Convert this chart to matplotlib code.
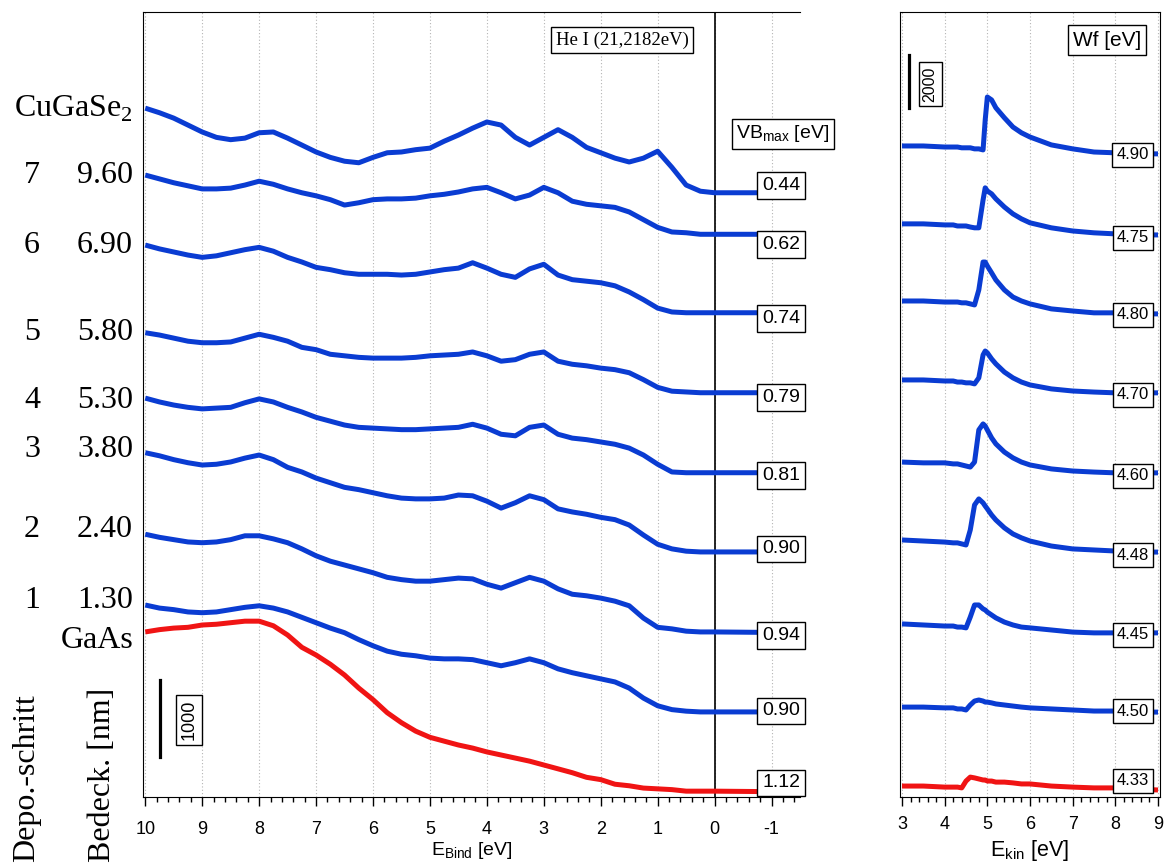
import matplotlib
matplotlib.use("Agg")
import matplotlib.pyplot as plt
from matplotlib.ticker import MultipleLocator

plt.rcParams['font.family'] = ['Liberation Sans', 'DejaVu Sans']
plt.rcParams['axes.unicode_minus'] = False

# ---- valence band spectra (He I), counts vs binding energy ----
e_bind = [10, 9.75, 9.5, 9.25, 9, 8.75, 8.5, 8.25, 8, 7.75, 7.5, 7.25, 7, 6.75,
          6.5, 6.25, 6, 5.75, 5.5, 5.25, 5, 4.75, 4.5, 4.25, 4, 3.75, 3.5, 3.25,
          3, 2.75, 2.5, 2.25, 2, 1.75, 1.5, 1.25, 1, 0.75, 0.5, 0.25, 0, -1.5]

vb_cugase2 = [8930, 8870, 8800, 8710, 8620, 8550, 8520, 8540, 8610, 8620, 8540, 8450, 8360, 8290,
              8240, 8220, 8290, 8350, 8360, 8390, 8410, 8500, 8580, 8670, 8750, 8710, 8550, 8450,
              8550, 8650, 8550, 8420, 8350, 8280, 8230, 8280, 8370, 8160, 7930, 7850, 7830, 7830]
vb_step7 = [8060, 8010, 7960, 7920, 7880, 7880, 7890, 7930, 7980, 7940, 7880, 7830, 7790, 7740,
            7670, 7700, 7740, 7750, 7750, 7760, 7790, 7810, 7840, 7880, 7900, 7830, 7750, 7800,
            7900, 7830, 7720, 7680, 7660, 7640, 7580, 7480, 7380, 7320, 7310, 7290, 7290, 7290]
vb_step6 = [7150, 7100, 7060, 7020, 6990, 7010, 7050, 7090, 7120, 7070, 6990, 6930, 6860, 6830,
            6790, 6770, 6770, 6770, 6760, 6770, 6800, 6830, 6850, 6920, 6850, 6770, 6730, 6840,
            6900, 6760, 6700, 6680, 6660, 6620, 6540, 6440, 6330, 6280, 6270, 6270, 6270, 6270]
vb_step5 = [6010, 5980, 5940, 5900, 5880, 5880, 5890, 5940, 5990, 5950, 5900, 5820, 5790, 5730,
            5710, 5690, 5680, 5680, 5680, 5690, 5710, 5720, 5730, 5760, 5710, 5640, 5660, 5730,
            5760, 5640, 5600, 5580, 5550, 5530, 5490, 5400, 5300, 5250, 5240, 5230, 5230, 5230]
vb_step4 = [5160, 5110, 5070, 5040, 5020, 5030, 5040, 5100, 5150, 5110, 5040, 4980, 4910, 4860,
            4810, 4780, 4770, 4760, 4750, 4750, 4760, 4770, 4780, 4820, 4770, 4690, 4670, 4780,
            4810, 4690, 4640, 4620, 4590, 4560, 4510, 4420, 4300, 4200, 4190, 4190, 4190, 4190]
vb_step3 = [4450, 4410, 4360, 4320, 4290, 4300, 4330, 4380, 4420, 4360, 4260, 4200, 4120, 4060,
            4000, 3970, 3930, 3890, 3860, 3850, 3850, 3860, 3900, 3890, 3820, 3730, 3800, 3890,
            3840, 3720, 3680, 3650, 3610, 3580, 3510, 3380, 3260, 3200, 3170, 3160, 3160, 3160]
vb_step2 = [3390, 3350, 3320, 3290, 3280, 3290, 3320, 3370, 3370, 3330, 3280, 3200, 3110, 3040,
            2990, 2940, 2890, 2830, 2800, 2780, 2780, 2800, 2820, 2810, 2740, 2690, 2760, 2830,
            2780, 2680, 2610, 2590, 2560, 2520, 2460, 2300, 2180, 2160, 2130, 2120, 2120, 2110]
vb_step1 = [2470, 2430, 2410, 2380, 2370, 2380, 2410, 2440, 2460, 2430, 2380, 2310, 2240, 2170,
            2110, 2020, 1940, 1870, 1830, 1810, 1780, 1770, 1770, 1760, 1720, 1680, 1720, 1770,
            1720, 1640, 1590, 1550, 1510, 1470, 1390, 1260, 1160, 1110, 1090, 1080, 1080, 1080]
vb_gaas = [2120, 2150, 2170, 2180, 2210, 2220, 2240, 2260, 2260, 2200, 2080, 1920, 1820, 1700,
           1560, 1390, 1240, 1070, 940, 830, 750, 700, 650, 610, 560, 520, 480, 440,
           390, 340, 290, 230, 200, 140, 120, 90, 80, 70, 50, 50, 50, 40]

vb_max = ['0.44', '0.62', '0.74', '0.79', '0.81', '0.90', '0.94', '0.90', '1.12']

# ---- secondary electron cutoff, counts vs kinetic energy ----
e_kin = [3.0, 3.5, 4.0, 4.2, 4.3, 4.4, 4.5, 4.6, 4.7, 4.8, 4.9, 4.95, 5.0, 5.1, 5.2,
         5.4, 5.6, 5.8, 6.0, 6.5, 7.0, 7.5, 8.0, 8.5, 9.0]

wf_cugase2 = [24660, 24660, 24620, 24620, 24620, 24590, 24590, 24590, 24550, 24550, 24510, 25650, 26520,
              26410, 26110, 25730, 25380, 25160, 25000, 24700, 24550, 24430, 24400, 24360, 24360]
wf_step7 = [21700, 21700, 21660, 21660, 21620, 21620, 21620, 21580, 21550, 21550, 22610, 23070, 22950,
            22840, 22650, 22340, 22080, 21890, 21740, 21550, 21430, 21360, 21320, 21280, 21280]
wf_step6 = [18770, 18770, 18730, 18730, 18730, 18700, 18700, 18660, 18620, 19190, 20250, 20250, 20100,
            19840, 19570, 19190, 18920, 18770, 18660, 18470, 18390, 18320, 18320, 18280, 18280]
wf_step5 = [15770, 15770, 15730, 15730, 15690, 15690, 15660, 15660, 15620, 15850, 16720, 16870, 16800,
            16570, 16380, 16070, 15850, 15690, 15580, 15430, 15350, 15310, 15280, 15280, 15280]
wf_step4 = [12650, 12620, 12620, 12580, 12580, 12540, 12500, 12460, 12650, 13870, 14100, 14020, 13870,
            13570, 13340, 13030, 12810, 12650, 12540, 12390, 12310, 12270, 12240, 12240, 12240]
wf_step3 = [9690, 9650, 9610, 9580, 9580, 9540, 9500, 10070, 11020, 11250, 11100, 10980, 10870,
            10640, 10450, 10150, 9920, 9770, 9650, 9460, 9350, 9310, 9270, 9230, 9230]
wf_step2 = [6500, 6460, 6420, 6420, 6380, 6380, 6350, 6760, 7220, 7220, 7070, 7030, 6950,
            6840, 6730, 6570, 6460, 6380, 6350, 6270, 6190, 6160, 6160, 6160, 6160]
wf_step1 = [3340, 3340, 3310, 3310, 3270, 3270, 3230, 3420, 3570, 3610, 3570, 3530, 3530,
            3500, 3460, 3420, 3380, 3340, 3310, 3270, 3230, 3190, 3190, 3150, 3150]
wf_gaas = [340, 340, 300, 300, 300, 270, 530, 680, 650, 610, 570, 570, 530,
           530, 490, 490, 460, 420, 420, 340, 300, 270, 270, 230, 190]

wf_values = ['4.90', '4.75', '4.80', '4.70', '4.60', '4.48', '4.45', '4.50', '4.33']

steps = ['7', '6', '5', '4', '3', '2', '1']
coverage = ['9.60', '6.90', '5.80', '5.30', '3.80', '2.40', '1.30']

vb_curves = [vb_cugase2, vb_step7, vb_step6, vb_step5, vb_step4, vb_step3, vb_step2, vb_step1, vb_gaas]
wf_curves = [wf_cugase2, wf_step7, wf_step6, wf_step5, wf_step4, wf_step3, wf_step2, wf_step1, wf_gaas]
colors = ['#0a3cd2'] * 8 + ['#f01414']

# ---- layout (figure pixels) ----
W, H = 1165, 866
def fx(x):
    return x / W
def fy(y):
    return 1 - y / H

serif = ['Liberation Serif', 'DejaVu Serif']
box = dict(boxstyle='square,pad=0.25', fc='white', ec='black', lw=1)

fig = plt.figure(figsize=(11.65, 8.66), dpi=100)

ax1 = fig.add_axes([fx(143), fy(797), (800 - 143) / W, (797 - 12) / H])
ax2 = fig.add_axes([fx(900), fy(797), (1160 - 900) / W, (797 - 12) / H])

for ax, x, curves in [(ax1, e_bind, vb_curves), (ax2, e_kin, wf_curves)]:
    for y, c in zip(curves, colors):
        ax.plot(x, y, color=c, lw=3.6, solid_capstyle='butt', solid_joinstyle='round', zorder=3)
    ax.set_yticks([])
    ax.xaxis.set_major_locator(MultipleLocator(1))
    ax.xaxis.set_minor_locator(MultipleLocator(0.2))
    ax.tick_params(axis='x', which='major', direction='out', length=6.5, width=1, labelsize=13)
    ax.tick_params(axis='x', which='minor', direction='out', length=3.6, width=1)
    ax.grid(axis='x', which='major', ls=(0, (1, 2)), color='#b4b4b4', lw=0.8)
    ax.set_axisbelow(True)

ax1.set_xlim(10.04, -1.5)
ax1.set_ylim(-26, 10180)
ax1.spines['right'].set_visible(False)
ax1.tick_params(axis='x', which='major', pad=11)
ax1.axvline(0, color='black', lw=1.2, zorder=2)
ax1.set_xlabel('E$_\\mathregular{Bind}$ [eV]', fontsize=14, labelpad=1)

ax2.set_xlim(2.953, 9.047)
ax2.set_ylim(-76, 29750)
ax2.tick_params(axis='x', which='major', pad=7)
ax2.set_xlabel('E$_\\mathregular{kin}$ [eV]', fontsize=15.5, labelpad=4)

# value boxes at the end of each curve
vb_dy = [7, -10, -6, -5, -3, 3, -3, 1, 9]
for y, lab, dy in zip(vb_curves, vb_max, vb_dy):
    ax1.annotate(lab, xy=(-1.17, y[-1]), xytext=(0, dy), textcoords='offset pixels',
                 ha='center', va='center', fontsize=14, bbox=box, zorder=5,
                 annotation_clip=False)
wf_dy = [-1, -3, -1, -2, -3, -3, -2, 1, 9]
for y, lab, dy in zip(wf_curves, wf_values, wf_dy):
    ax2.annotate(lab, xy=(8.41, y[-1]), xytext=(0, dy), textcoords='offset pixels',
                 ha='center', va='center', fontsize=12, bbox=box, zorder=5,
                 annotation_clip=False)

# scale bars
ax1.plot([9.74, 9.74], [500, 1500], color='black', lw=2.3)
ax1.text(9.23, 975, '1000', rotation=90, ha='center', va='center', fontsize=13, bbox=box)
ax2.plot([3.16, 3.16], [26100, 28100], color='black', lw=2.3)
ax2.text(3.66, 27020, '2000', rotation=90, ha='center', va='center', fontsize=11.5, bbox=box)

# header boxes
fig.text(fx(622), fy(40), 'He I (21,2182eV)', family=serif, fontsize=13.5,
         ha='center', va='center', bbox=box)
fig.text(fx(783), fy(134), 'VB$_\\mathregular{max}$ [eV]', fontsize=14,
         ha='center', va='center', bbox=box)
fig.text(fx(1107), fy(40), 'Wf [eV]', fontsize=15, ha='center', va='center', bbox=box)

# sample labels on the left
fig.text(fx(133), fy(117), 'CuGaSe$_\\mathregular{2}$', family=serif, fontsize=23,
         ha='right', va='baseline')
label_base = [183, 253, 340, 408, 457, 537, 608]
for s, c, yb in zip(steps, coverage, label_base):
    fig.text(fx(32), fy(yb), s, family=serif, fontsize=23, ha='center', va='baseline')
    fig.text(fx(133), fy(yb), c, family=serif, fontsize=23, ha='right', va='baseline')
fig.text(fx(133), fy(648), 'GaAs', family=serif, fontsize=23, ha='right', va='baseline')

fig.text(fx(27), fy(862), 'Depo.-schritt', family=serif, fontsize=23, rotation=90,
         ha='center', va='bottom')
fig.text(fx(102), fy(862), 'Bedeck. [nm]', family=serif, fontsize=23, rotation=90,
         ha='center', va='bottom')

fig.savefig('out.png', dpi=100)
